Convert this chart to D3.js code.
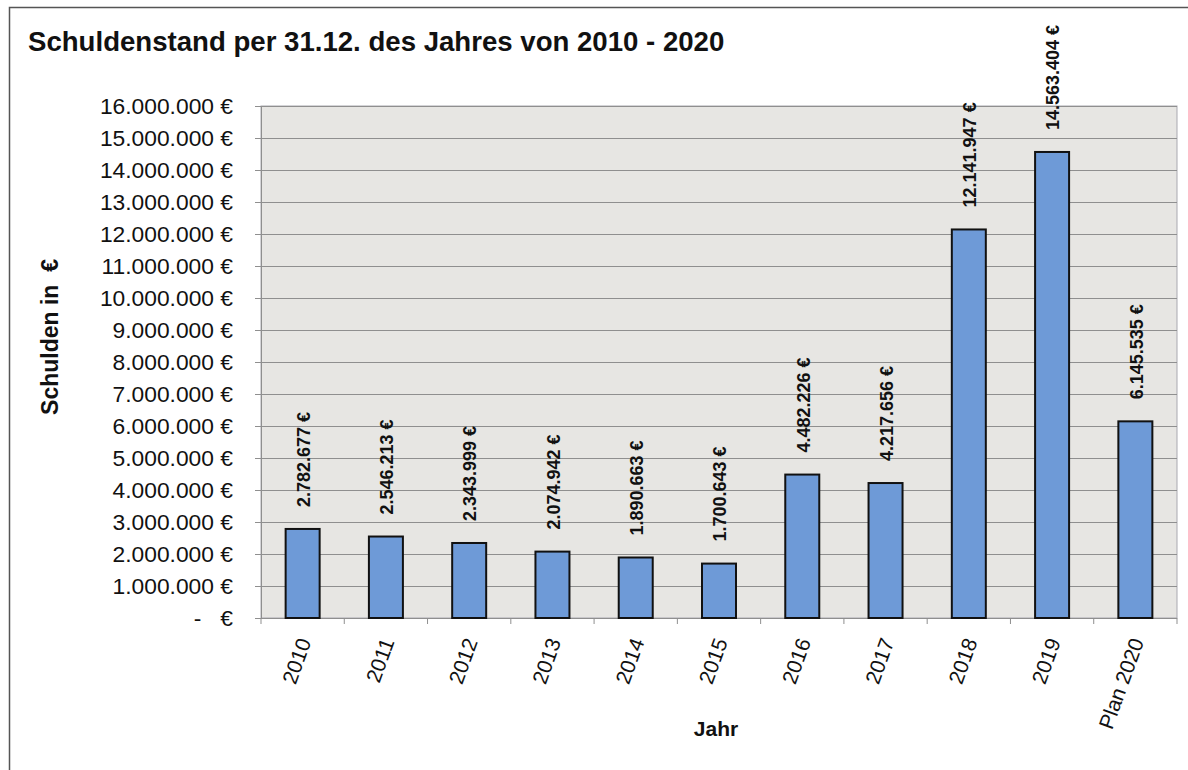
<!DOCTYPE html>
<html>
<head>
<meta charset="utf-8">
<script src="https://cdn.jsdelivr.net/npm/d3@7"></script>
<style>
  html, body { margin: 0; padding: 0; background: #fff; }
  svg text { font-family: "Liberation Sans", Arial, sans-serif; fill: #111; }
</style>
</head>
<body>
<svg id="chart" width="1188" height="770"></svg>
<script>
const categories = ["2010","2011","2012","2013","2014","2015","2016","2017","2018","2019","Plan 2020"];
const values = [2782677, 2546213, 2343999, 2074942, 1890663, 1700643, 4482226, 4217656, 12141947, 14563404, 6145535];
const yTicks = [0,1000000,2000000,3000000,4000000,5000000,6000000,7000000,8000000,9000000,10000000,11000000,12000000,13000000,14000000,15000000,16000000];
const titleText = "Schuldenstand per 31.12. des Jahres von 2010 - 2020";
const yTitle = "Schulden in  €";
const xTitle = "Jahr";

const de = d3.formatLocale({decimal: ",", thousands: ".", grouping: [3], currency: ["", " €"]});
const fmt = de.format(",.0f");
const money = v => v === 0 ? "-   €" : fmt(v) + " €";

const svg = d3.select("#chart");
const W = 1188, H = 770;
const plot = {left: 261, right: 1177, top: 106, bottom: 618};

// outer frame
svg.append("path").attr("d", `M9.5,${H} V7.5 H${W}`).attr("fill","none").attr("stroke","#555").attr("stroke-width",1.5);

svg.append("text").attr("x", 28).attr("y", 51)
  .style("font-size","27.6px").style("font-weight","bold").text(titleText);

const x = d3.scaleBand().domain(categories).range([plot.left, plot.right]).paddingInner(0).paddingOuter(0);
const y = d3.scaleLinear().domain([0, 16000000]).range([plot.bottom, plot.top]);

// plot background
svg.append("rect").attr("x", plot.left).attr("y", plot.top)
  .attr("width", plot.right - plot.left).attr("height", plot.bottom - plot.top)
  .attr("fill", "#e7e6e3").attr("stroke", "#a9a9b0").attr("stroke-width", 1);

// gridlines
svg.append("g").selectAll("line").data(yTicks.filter(d => d > 0)).join("line")
  .attr("x1", plot.left).attr("x2", plot.right)
  .attr("y1", d => Math.round(y(d)) + 0.5).attr("y2", d => Math.round(y(d)) + 0.5)
  .attr("stroke", "#8f8f8f").attr("stroke-width", 1);

// y axis
const yAxis = d3.axisLeft(y).tickValues(yTicks).tickSize(6).tickPadding(22).tickFormat(money);
const gy = svg.append("g").attr("transform", `translate(${plot.left},0)`).call(yAxis);
gy.select(".domain").attr("stroke", "#8f8f8f");
gy.selectAll(".tick line").attr("stroke", "#8f8f8f");
gy.selectAll(".tick text").style("font-size", "22.8px").style("white-space", "pre").attr("fill", "#111")
  .attr("x", -28).attr("dy", "0.35em");

// x axis
const boundaries = categories.map(c => x(c)).concat([plot.right]);
const gx = svg.append("g");
gx.append("line").attr("x1", plot.left).attr("x2", plot.right)
  .attr("y1", plot.bottom + 0.5).attr("y2", plot.bottom + 0.5).attr("stroke", "#8f8f8f");
gx.selectAll("line.tk").data(boundaries).join("line").attr("class","tk")
  .attr("x1", d => d).attr("x2", d => d).attr("y1", plot.bottom).attr("y2", plot.bottom + 6)
  .attr("stroke", "#8f8f8f");
gx.selectAll("text").data(categories).join("text")
  .attr("transform", d => `translate(${x(d) + x.bandwidth()/2 + 2},${plot.bottom + 21}) rotate(-70)`)
  .attr("text-anchor", "end").attr("dy", "0.35em")
  .style("font-size", "21px").text(d => d);

// bars
const bw = 34;
const data = categories.map((c, i) => ({c, v: values[i]}));
svg.append("g").selectAll("rect").data(data).join("rect")
  .attr("x", d => x(d.c) + x.bandwidth()/2 - bw/2)
  .attr("y", d => y(d.v))
  .attr("width", bw).attr("height", d => plot.bottom - y(d.v))
  .attr("fill", "#6e9ad7").attr("stroke", "#111").attr("stroke-width", 2);

// value labels
svg.append("g").selectAll("text").data(data).join("text")
  .attr("transform", d => `translate(${x(d.c) + x.bandwidth()/2 + 1},${y(d.v) - 22}) rotate(-90)`)
  .attr("text-anchor", "start").attr("dy", "0.35em")
  .style("font-size", "18px").style("font-weight", "bold").text(d => money(d.v));

// axis titles
svg.append("text").attr("transform", `translate(58,337) rotate(-90)`)
  .attr("text-anchor", "middle").style("font-size", "23px").style("font-weight", "bold")
  .style("white-space", "pre").text(yTitle);
svg.append("text").attr("x", 716).attr("y", 736).attr("text-anchor", "middle")
  .style("font-size", "21px").style("font-weight", "bold").text(xTitle);
</script>
</body>
</html>
